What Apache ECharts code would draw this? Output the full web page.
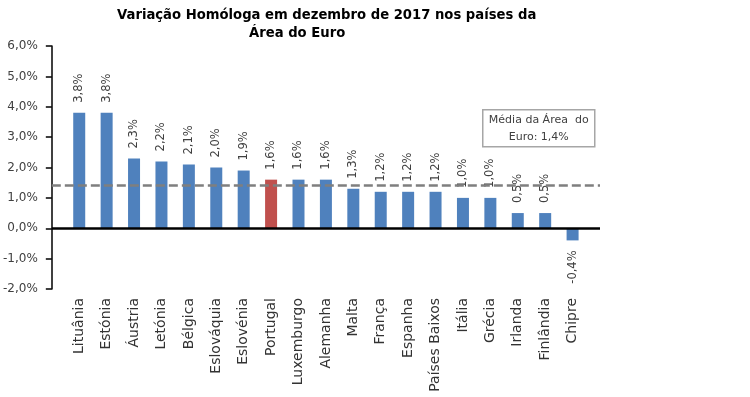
<!DOCTYPE html>
<html>
<head>
<meta charset="utf-8">
<script src="https://cdn.jsdelivr.net/npm/echarts@6/dist/echarts.min.js"></script>
<style>
html,body{margin:0;padding:0;background:#fff;}
#chart{width:750px;height:397px;}
</style>
</head>
<body>
<div id="chart"></div>
<script>
var paises = ['Lituânia','Estónia','Áustria','Letónia','Bélgica','Eslováquia','Eslovénia','Portugal','Luxemburgo','Alemanha','Malta','França','Espanha','Países Baixos','Itália','Grécia','Irlanda','Finlândia','Chipre'];
var variacao = [3.8,3.8,2.3,2.2,2.1,2.0,1.9,1.6,1.6,1.6,1.3,1.2,1.2,1.2,1.0,1.0,0.5,0.5,-0.4];
var mediaEuro = 1.4;
var destaque = 'Portugal';

var fonte = 'DejaVu Sans';
var azul = '#4F81BD', vermelho = '#C0504D';

function pct(v){ return v.toFixed(1).replace('.', ',') + '%'; }

// categorias vazias nas pontas para deixar a margem do Excel
var cats = [''].concat(paises).concat(['']);
var dados = [null];
for(var i=0;i<paises.length;i++){
	var v = variacao[i];
	dados.push({
		value: v,
		itemStyle: {color: paises[i]==destaque ? vermelho : azul},
		label: v>=0
			? {position:'top', align:'left', verticalAlign:'middle'}
			: {position:'bottom', align:'right', verticalAlign:'middle'}
	});
}
dados.push(null);

var chart = echarts.init(document.getElementById('chart'));
var option = {
	animation: false,
	textStyle: {fontFamily: fonte},
	title: [{
		text: 'Variação Homóloga em dezembro de 2017 nos países da',
		left: 112, top: 4,
		textStyle: {fontFamily: fonte, fontSize: 13.2, fontWeight: 'bold', color: '#000'}
	},{
		text: 'Área do Euro',
		left: 244, top: 22,
		textStyle: {fontFamily: fonte, fontSize: 13.2, fontWeight: 'bold', color: '#000'}
	}],
	grid: {left: 50, right: 150, top: 46, bottom: 108, containLabel: false},
	xAxis: {
		type: 'category',
		data: cats,
		boundaryGap: false,
		axisLine: {show: false, onZero: false},
		axisTick: {show: false},
		axisLabel: {rotate: 90, margin: 9, interval: 0, fontSize: 14, color: '#333', fontFamily: fonte}
	},
	yAxis: {
		type: 'value',
		min: -2, max: 6, interval: 1,
		axisLine: {show: true, lineStyle: {color: '#000', width: 1.5}},
		axisTick: {show: true, length: 6, lineStyle: {color: '#000', width: 1.5}},
		splitLine: {show: false},
		axisLabel: {fontSize: 12, color: '#404040', margin: 14, fontFamily: fonte,
			formatter: function(v){ return pct(v); }}
	},
	series: [{
		type: 'bar',
		data: dados,
		barWidth: 12,
		label: {
			show: true,
			rotate: 90,
			distance: 10,
			fontSize: 11.5,
			color: '#404040',
			fontFamily: fonte,
			formatter: function(p){ return pct(p.value); }
		},
		markLine: {
			silent: true,
			symbol: ['none','none'],
			label: {show: false},
			data: [
				{yAxis: 0, lineStyle: {color: '#000', width: 2.5, type: 'solid'}},
				{yAxis: mediaEuro, lineStyle: {color: '#7F7F7F', width: 2.5, type: [9,4]}}
			]
		}
	}],
	graphic: [{
		type: 'group',
		left: 482, top: 109,
		children: [{
			type: 'rect',
			shape: {x: 0, y: 0, width: 112, height: 37},
			style: {fill: '#fff', stroke: '#A6A6A6', lineWidth: 1.5}
		},{
			type: 'text',
			x: 56, y: 18.5,
			style: {
				text: 'Média da Área  do\nEuro: 1,4%',
				fontFamily: fonte, fontSize: 11, fill: '#404040',
				align: 'center', verticalAlign: 'middle', lineHeight: 17
			}
		}]
	}]
};
chart.setOption(option);
</script>
</body>
</html>
